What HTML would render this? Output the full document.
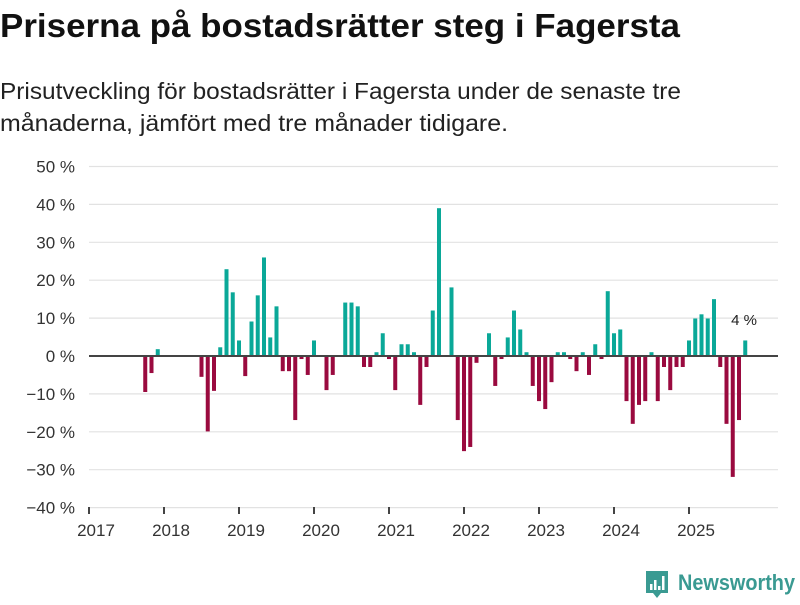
<!DOCTYPE html>
<html><head><meta charset="utf-8">
<style>
html,body{margin:0;padding:0;background:#fff;}
body{width:800px;height:600px;overflow:hidden;font-family:"Liberation Sans",sans-serif;}
</style></head>
<body>
<svg id="chart" width="800" height="600" viewBox="0 0 800 600" xmlns="http://www.w3.org/2000/svg" font-family="Liberation Sans, sans-serif">
<text x="0" y="37" font-size="33" font-weight="bold" fill="#111" textLength="680" lengthAdjust="spacingAndGlyphs">Priserna på bostadsrätter steg i Fagersta</text>
<text x="0" y="99" font-size="23" fill="#222" textLength="681" lengthAdjust="spacingAndGlyphs">Prisutveckling för bostadsrätter i Fagersta under de senaste tre</text>
<text x="0" y="131" font-size="23" fill="#222" textLength="508" lengthAdjust="spacingAndGlyphs">månaderna, jämfört med tre månader tidigare.</text>
<g id="grid"></g>
<g id="bars"></g>
<g id="xaxis"></g>
<text x="744" y="325" font-size="15" fill="#222" text-anchor="middle">4 %</text>
<g>
  <path d="M646 571 h22 v22 h-7 l-4 5 l-4 -5 h-7 z" fill="#3a9a92"/>
  <rect x="650" y="584" width="2.5" height="6" fill="#fff"/>
  <rect x="654" y="580" width="2.5" height="10" fill="#fff"/>
  <rect x="658" y="586" width="2.5" height="4" fill="#fff"/>
  <rect x="662" y="576" width="2.5" height="14" fill="#fff"/>
  <text x="678" y="590" font-size="22" font-weight="bold" fill="#3a9a92" textLength="117" lengthAdjust="spacingAndGlyphs">Newsworthy</text>
</g>
</svg>
<script>
const months = ["2017-10","2017-11","2017-12","2018-07","2018-08","2018-09","2018-10","2018-11","2018-12","2019-01","2019-02","2019-03","2019-04","2019-05","2019-06","2019-07","2019-08","2019-09","2019-10","2019-11","2019-12","2020-01","2020-03","2020-04","2020-06","2020-07","2020-08","2020-09","2020-10","2020-11","2020-12","2021-01","2021-02","2021-03","2021-04","2021-05","2021-06","2021-07","2021-08","2021-09","2021-11","2021-12","2022-01","2022-02","2022-03","2022-05","2022-06","2022-07","2022-08","2022-09","2022-10","2022-11","2022-12","2023-01","2023-02","2023-03","2023-04","2023-05","2023-06","2023-07","2023-08","2023-09","2023-10","2023-11","2023-12","2024-01","2024-02","2024-03","2024-04","2024-05","2024-06","2024-07","2024-08","2024-09","2024-10","2024-11","2024-12","2025-01","2025-02","2025-03","2025-04","2025-05","2025-06","2025-07","2025-08","2025-09","2025-10"];
const values = [-9.5,-4.5,1.8,-5.5,-19.9,-9.2,2.3,22.9,16.8,4.1,-5.3,9.1,16.0,26.0,4.9,13.1,-4.0,-4.0,-16.9,-0.8,-5.0,4.1,-9.0,-5.0,14.1,14.1,13.1,-2.9,-2.9,1.0,6.0,-0.8,-9.0,3.1,3.1,1.0,-12.9,-2.9,12.0,39.0,18.1,-16.9,-25.1,-24.0,-1.8,6.0,-7.9,-0.8,4.9,12.0,7.0,1.0,-7.9,-11.9,-14.0,-6.9,1.0,1.0,-0.8,-4.0,1.0,-5.0,3.1,-0.8,17.1,6.0,7.0,-11.9,-17.9,-12.9,-11.9,1.0,-11.9,-2.9,-9.0,-2.9,-2.9,4.1,9.9,11.0,9.9,15.0,-2.9,-17.9,-31.9,-16.9,4.1];
const yTicks = [50,40,30,20,10,0,-10,-20,-30,-40];
const xYears = [2017,2018,2019,2020,2021,2022,2023,2024,2025];

const NS="http://www.w3.org/2000/svg";
const x0=89, perMonth=6.25, xEnd=778;
function xScale(ym){const [y,m]=ym.split("-").map(Number);return x0+((y-2017)*12+(m-1))*perMonth;}
function xYear(y){return x0+(y-2017)*12*perMonth;}
function yScale(v){return 356-v*3.79;}
function mk(tag,attrs,parent){const e=document.createElementNS(NS,tag);for(const k in attrs)e.setAttribute(k,attrs[k]);parent.appendChild(e);return e;}

const grid=document.getElementById("grid");
yTicks.forEach(t=>{
  if(t!==0){
    const l=mk("line",{x1:x0,x2:xEnd,y1:yScale(t),y2:yScale(t),stroke:"#e2e2e2","stroke-width":1.2},grid);
    
    
  }
  const tx=mk("text",{x:75,y:yScale(t)+6,"font-size":17,fill:"#333","text-anchor":"end"},grid);
  tx.textContent=(t<0?"\u2212"+(-t):t)+" %";
  
  
});
const bars=document.getElementById("bars");
months.forEach((m,i)=>{
  const v=values[i];const cx=xScale(m);
  const y1=yScale(Math.max(v,0)),y2=yScale(Math.min(v,0));
  const r=mk("rect",{x:cx-2,y:y1,width:4,height:Math.max(y2-y1,0.5),fill:v>=0?"#0aa898":"#9a0a3f"},bars);
  
  
});
const zl=mk("line",{x1:x0,x2:xEnd,y1:yScale(0),y2:yScale(0),stroke:"#444","stroke-width":2},bars);


const xa=document.getElementById("xaxis");
xYears.forEach(y=>{
  const x=xYear(y);
  const t=mk("line",{x1:x,x2:x,y1:507,y2:514,stroke:"#444","stroke-width":2},xa);
  
  
  const tx=mk("text",{x:x+7,y:536,"font-size":17,fill:"#333","text-anchor":"middle"},xa);
  tx.textContent=y;
  
  
});
</script>
</body></html>
